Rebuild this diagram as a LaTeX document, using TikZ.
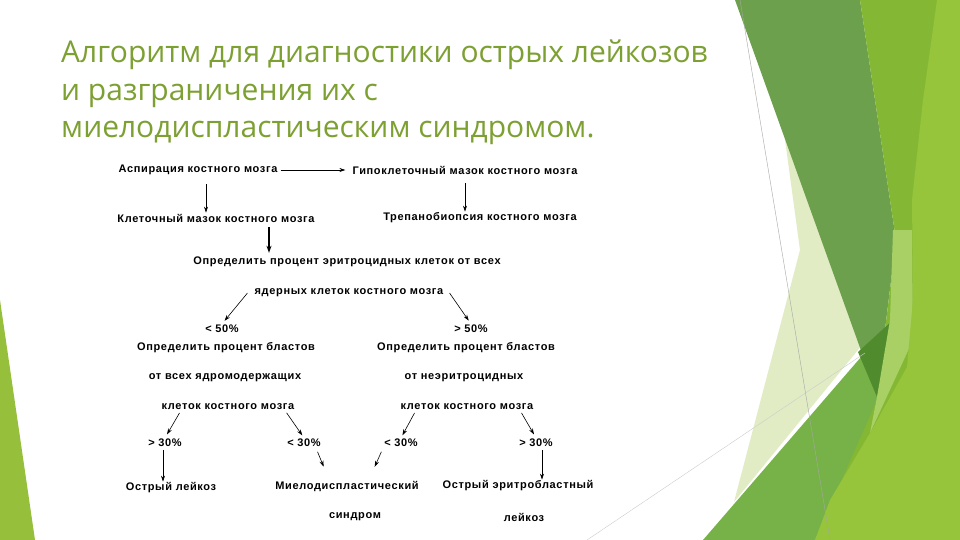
\documentclass[tikz,border=0pt]{standalone}
\usepackage{fontspec}
\setmainfont{Open Sans}
\newfontfamily\diagfont[LetterSpace=6]{Liberation Sans}
\usetikzlibrary{arrows.meta,positioning}
\definecolor{titlegreen}{RGB}{125,160,50}
\definecolor{bandgreen}{RGB}{108,160,76}
\definecolor{midgreen}{RGB}{132,184,52}
\definecolor{lightgreen}{RGB}{150,196,58}
\definecolor{stripgreen}{RGB}{168,208,100}
\definecolor{lowgreen}{RGB}{118,178,72}
\definecolor{deepgreen}{RGB}{80,140,45}
\definecolor{palegreen}{RGB}{225,236,196}
\definecolor{edgegreen}{RGB}{150,192,60}

\begin{document}
\begin{tikzpicture}[x=1pt,y=-1pt,
txt/.style={font=\diagfont\bfseries\fontsize{11}{13}\selectfont, inner sep=1pt},
line/.style={-{Stealth[length=6pt,width=4pt]}, semithick},
thickline/.style={-{Stealth[length=7pt,width=5pt]}, line width=1.4pt},
title/.style={font=\fontsize{30}{37.5}\selectfont, text=titlegreen, align=left, anchor=north west, inner sep=0pt}
]
\useasboundingbox (0,0) rectangle (960,540);
% background shapes
\fill[white] (0,0) rectangle (960,540);
\fill[edgegreen] (0,300) -- (35,540) -- (0,540) -- cycle;
\fill[palegreen] (783,125) -- (862,345) -- (734,502) -- (800,250) -- cycle;
\fill[bandgreen] (735,0) -- (860,0) -- (896,240) -- (877,395) -- cycle;
\fill[midgreen] (860,0) -- (960,0) -- (960,540) -- (815,540) -- (877,395) -- (896,240) -- cycle;
\fill[lowgreen] (703,540) -- (893,320) -- (877,400) -- (815,540) -- cycle;
\fill[deepgreen] (858,352) -- (893,320) -- (877,397) -- cycle;
\fill[stripgreen] (893,230) -- (912,230) -- (913,340) -- (870,433) -- (877,397) -- (890,320) -- cycle;
\fill[lightgreen] (937,0) -- (960,0) -- (960,540) -- (815,540) -- (830,500) -- (870,433) -- (907,367) -- (913,300) -- (912,200) -- (923,100) -- cycle;
\draw[gray!70, line width=0.4pt] (740,0) -- (830,540);
\draw[gray!40, line width=0.4pt] (587,540) -- (865,353);
% title
\node[title] (title) at (61,40) {Алгоритм для диагностики острых лейкозов\\и разграничения их с\\миелодиспластическим синдромом.};
% scheme
\node[txt] (aspir) at (198,170) {Аспирация костного мозга};
\node[txt] (hypo) at (465,170) {Гипоклеточный мазок костного мозга};
\node[txt] (smear) at (216,218) {Клеточный мазок костного мозга};
\node[txt] (trephine) at (480,218) {Трепанобиопсия костного мозга};
\node[txt] (erythA) at (347,262) {Определить процент эритроцидных клеток от всех};
\node[txt] (erythB) at (349,293) {ядерных клеток костного мозга};
\node[txt] (less50) at (222,329) {< 50\%};
\node[txt] (more50) at (471,329) {> 50\%};
\node[txt] (blastL) at (226,348) {Определить процент бластов};
\node[txt] (blastR) at (466,348) {Определить процент бластов};
\node[txt] (ofallL) at (225,378) {от всех ядромодержащих};
\node[txt] (ofallR) at (464,378) {от неэритроцидных};
\node[txt] (cellsL) at (228,407) {клеток костного мозга};
\node[txt] (cellsR) at (467,407) {клеток костного мозга};
\node[txt] (more30L) at (165,443) {> 30\%};
\node[txt] (less30L) at (304,443) {< 30\%};
\node[txt] (less30R) at (401,443) {< 30\%};
\node[txt] (more30R) at (536,443) {> 30\%};
\node[txt] (acute) at (171,488) {Острый лейкоз};
\node[txt] (mdsA) at (347,486) {Миелодиспластический};
\node[txt] (mdsB) at (355,517) {синдром};
\node[txt] (erythroA) at (518,486) {Острый эритробластный};
\node[txt] (erythroB) at (524,517) {лейкоз};
% arrows
\draw[line, shorten <=2pt, shorten >=6pt] (aspir.east) -- (hypo.west);
\draw[line, shorten <=8pt] ([xshift=8pt]aspir.south) -- ([xshift=8pt]aspir.south |- smear.north);
\draw[line, shorten <=8pt] (hypo.south) -- (hypo.south |- trephine.north);
\draw[thickline, shorten <=4pt, shorten >=3pt] ([xshift=53pt]smear.south) -- ([xshift=53pt]smear.south |- erythA.north);
\draw[line, shorten >=4pt] ([xshift=-6pt]erythB.west) -- (less50.north);
\draw[line, shorten >=4pt] ([xshift=5pt]erythB.east) -- (more50.north);
\draw[line, shorten <=2pt, shorten >=4pt] ([xshift=20pt]cellsL.south west) -- (more30L.north);
\draw[line, shorten <=2pt, shorten >=3pt] ([xshift=-10pt]cellsL.south east) -- (less30L.north);
\draw[line, shorten <=2pt, shorten >=3pt] ([xshift=16pt]cellsR.south west) -- (less30R.north);
\draw[line, shorten <=2pt, shorten >=4pt] ([xshift=-14pt]cellsR.south east) -- (more30R.north);
\draw[line, shorten <=2pt] ([xshift=-2pt]more30L.south) -- ([xshift=-2pt]more30L.south |- acute.north);
\draw[line, shorten <=4pt, shorten >=14pt] ([xshift=12pt]less30L.south) -- ([xshift=-18pt]mdsA.north);
\draw[line, shorten <=4pt, shorten >=14pt] ([xshift=-18pt]less30R.south) -- ([xshift=22pt]mdsA.north);
\draw[line, shorten <=2pt] ([xshift=6pt]more30R.south) -- ([xshift=6pt]more30R.south |- erythroA.north);
\end{tikzpicture}
\end{document}
